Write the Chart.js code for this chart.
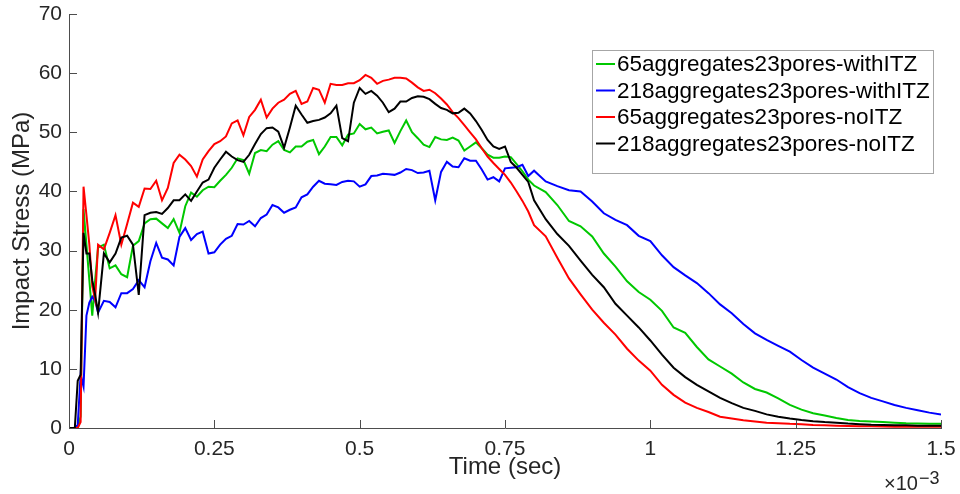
<!DOCTYPE html>
<html>
<head>
<meta charset="utf-8">
<script src="https://cdn.jsdelivr.net/npm/chart.js@4.4.1/dist/chart.umd.min.js"></script>
<style>
  html, body { margin: 0; padding: 0; background: #fff; }
  #wrap { width: 960px; height: 494px; position: relative; }
</style>
</head>
<body>
<div id="wrap"><canvas id="c"></canvas></div>
<script>
// time axis in units of 1e-3 s (finer steps at the impact spike)
const time = [
  0, 0.01, 0.015, 0.02, 0.025, 0.03, 0.035, 0.04, 0.045, 0.05,
  0.06, 0.07, 0.08, 0.09, 0.10, 0.11, 0.12, 0.13, 0.14, 0.15,
  0.16, 0.17, 0.18, 0.19, 0.20, 0.21, 0.22, 0.23, 0.24, 0.25,
  0.26, 0.27, 0.28, 0.29, 0.30, 0.31, 0.32, 0.33, 0.34, 0.35,
  0.36, 0.37, 0.38, 0.39, 0.40, 0.41, 0.42, 0.43, 0.44, 0.45,
  0.46, 0.47, 0.48, 0.49, 0.50, 0.51, 0.52, 0.53, 0.54, 0.55,
  0.56, 0.57, 0.58, 0.59, 0.60, 0.61, 0.62, 0.63, 0.64, 0.65,
  0.66, 0.67, 0.68, 0.69, 0.70, 0.71, 0.72, 0.73, 0.74, 0.75,
  0.76, 0.77, 0.78, 0.79, 0.80,
  0.82, 0.84, 0.86, 0.88, 0.90, 0.92, 0.94, 0.96, 0.98, 1.00,
  1.02, 1.04, 1.06, 1.08, 1.10, 1.12, 1.14, 1.16, 1.18, 1.20,
  1.22, 1.24, 1.26, 1.28, 1.30, 1.32, 1.34, 1.36, 1.38, 1.40,
  1.42, 1.44, 1.46, 1.48, 1.50
];

// impact stress (MPa)
const s65With = [
  0, 0, 0, 2, 37, 31, 25, 19, 25, 30.5,
  31, 27, 27.5, 26, 25.5, 30.8, 31.6, 34.6, 35.3, 35.4,
  34.6, 33.8, 35.3, 33, 37.5, 39.8, 39.1, 40.2, 40.8, 40.7,
  41.8, 42.8, 44, 45.6, 45.3, 43, 46.5, 47, 46.8, 47.9,
  48.5, 47, 46.6, 47.6, 47.6, 48.4, 48.7, 46.3, 47.6, 49.2,
  49.2, 47.8, 49.6, 49.8, 51.4, 50.5, 50.8, 49.8, 50.1, 50.3,
  48.2, 50.2, 52, 50, 49, 47.9, 47.5, 49.2, 48.8, 48.7,
  49.1, 48.6, 46.9, 47.6, 48.3, 47.3, 46.2, 45.7, 45.7, 45.9,
  45.8, 44.6, 43.4, 42, 41,
  39.9, 37.7, 35, 34.1, 32.4, 29.5, 27.3, 24.8, 23, 21.7,
  19.8, 17, 16.1, 13.7, 11.6, 10.4, 9.2, 7.7, 6.6, 6,
  5, 3.9, 3.1, 2.5, 2.1, 1.7, 1.35, 1.2, 1.1, 1.0,
  0.9, 0.8, 0.75, 0.7, 0.7
];
const s218With = [
  0, 0, 0.5, 9, 7, 19, 21.2, 22.2, 21.5, 19.5,
  21.5, 21.3, 20.4, 22.8, 22.8, 23.5, 25, 23.8, 28.2, 31.3,
  28.8, 28.5, 27.5, 32.3, 33.8, 31.8, 32.8, 33.2, 29.5, 29.7,
  31, 32, 32.5, 34.5, 34.4, 35, 34.1, 35.5, 36.1, 37.7,
  37.3, 36.4, 36.9, 37.3, 39, 39.5, 40.8, 41.8, 41.3, 41.2,
  41.1, 41.6, 41.8, 41.7, 40.8, 41.2, 42.6, 42.7, 43, 42.9,
  42.8, 43.2, 43.8, 43.6, 43.1, 43.2, 43.5, 38.5, 43.3, 45,
  44.2, 44.1, 45.6, 45.2, 45.2, 43.7, 42, 42.4, 41.7, 43.9,
  44, 44.1, 44.5, 42.6, 43.5,
  41.7, 40.9, 40.2, 40, 38.3, 36.3, 35.2, 34.3, 32.5, 31.6,
  29.2, 27.2, 25.8, 24.5, 22.8, 20.9, 19.4, 17.6, 16, 14.9,
  13.9, 12.9, 11.5, 10.2, 9.2, 8.2, 6.9, 5.9, 5.1, 4.5,
  3.9, 3.4, 3, 2.6, 2.3
];
const s65No = [
  0, 0, 0, 1, 40.8, 36, 31, 24, 21.7, 31,
  30.2, 33, 36, 31, 34.5, 38.1, 37.4, 40.5, 40.4, 41.8,
  38.5, 40.6, 44.8, 46.2, 45.4, 44.3, 42.5, 45.4, 46.8, 48,
  48.5, 49.3, 51.5, 52, 49.5, 52.6, 53.8, 55.5, 52.5, 54,
  55, 55.5, 56.5, 57, 54.8, 55.2, 57.5, 57.2, 55, 58.2,
  58, 58, 58.3, 58.3, 58.8, 59.7, 59.2, 58.2, 58.7, 58.9,
  59.2, 59.2, 59.1, 58.4, 57.6, 57, 57.2, 56.6, 55.7, 54.7,
  53.4, 52.4, 51.2, 50, 48.8, 47.3, 45.9, 44.8, 43.8, 42.8,
  41.5, 40, 38.4, 36.6, 34.3,
  32.4, 28.8, 25.3, 22.6, 20, 17.8, 15.8, 13.4, 11.4, 9.7,
  7.3, 5.6, 4.3, 3.4, 2.7, 1.9, 1.6, 1.3, 1.1, 0.9,
  0.8, 0.7, 0.65, 0.5, 0.45, 0.4, 0.35, 0.3, 0.3, 0.25,
  0.2, 0.2, 0.2, 0.2, 0.2
];
const s218No = [
  0, 0, 8, 9, 33, 29.5, 29.5, 25, 22.5, 19.5,
  29.5, 28, 29.5, 32.2, 32.5, 31, 22.5, 36, 36.4, 36.5,
  36.2, 37.2, 38.5, 38.5, 39.5, 38.4, 40, 41.5, 42, 44,
  45.4, 46.7, 45.9, 45.3, 45, 46.2, 48, 49.7, 50.7, 50.8,
  50.1, 47.4, 50.8, 54.5, 53, 51.6, 51.9, 52.1, 52.5, 53.2,
  54.5, 49, 48.5, 55, 57.5, 56.5, 57, 56.2, 55, 53.4,
  54, 55.2, 55.2, 55.8, 56.1, 56, 55.6, 54.8, 54.1, 53.8,
  53.2, 53.3, 54, 53.2, 51.9, 50.4, 48.7, 47.6, 47.2, 47.6,
  45, 44, 42.8, 41.6, 38.5,
  35.3, 32.8, 30.8, 28.3, 25.9, 23.8, 21, 19, 17, 14.8,
  12.4, 10.2, 8.6, 7.3, 6.2, 5.1, 4.2, 3.4, 2.9, 2.3,
  1.9, 1.6, 1.35, 1.15, 1.0, 0.9, 0.75, 0.65, 0.55, 0.5,
  0.45, 0.45, 0.4, 0.4, 0.4
];

const names  = ['65aggregates23pores-withITZ', '218aggregates23pores-withITZ',
                '65aggregates23pores-noITZ', '218aggregates23pores-noITZ'];
const colors = ['#00c800', '#0000ff', '#ff0000', '#000000'];
const values = [s65With, s218With, s65No, s218No];

const FONT = '"Liberation Sans", Arial, sans-serif';
const TXT  = '#262626';
const AXIS = '#4d4d4d';

// MATLAB style tick marks pointing into the plot
const innerTicks = {
  id: 'innerTicks',
  afterDraw(chart) {
    const {ctx, chartArea: a, scales: {x, y}} = chart;
    ctx.save();
    ctx.strokeStyle = AXIS;
    ctx.lineWidth = 1;
    ctx.beginPath();
    x.ticks.forEach(t => {
      const px = Math.round(x.getPixelForValue(t.value)) + 0.5;
      ctx.moveTo(px, a.bottom); ctx.lineTo(px, a.bottom - 8);
    });
    y.ticks.forEach(t => {
      const py = Math.round(y.getPixelForValue(t.value)) + 0.5;
      ctx.moveTo(a.left, py); ctx.lineTo(a.left + 8, py);
    });
    ctx.stroke();
    ctx.restore();
  }
};

// legend box inside the axes, upper right
const boxLegend = {
  id: 'boxLegend',
  afterDraw(chart) {
    const ctx = chart.ctx;
    const x0 = 592, y0 = 50, w = 341, h = 123;
    ctx.save();
    ctx.fillStyle = '#fff';
    ctx.fillRect(x0, y0, w, h);
    ctx.strokeStyle = '#a6a6a6';
    ctx.lineWidth = 1;
    ctx.strokeRect(x0 + 0.5, y0 + 0.5, w, h);
    ctx.font = `22.5px ${FONT}`;
    ctx.textBaseline = 'alphabetic';
    chart.data.datasets.forEach((ds, i) => {
      const ry = 64 + i * 26.5;
      ctx.strokeStyle = ds.borderColor;
      ctx.lineWidth = 2;
      ctx.beginPath(); ctx.moveTo(596, ry); ctx.lineTo(615, ry); ctx.stroke();
      ctx.fillStyle = '#000';
      ctx.fillText(ds.label, 617, ry + 7);
    });
    ctx.restore();
  }
};

// x10^-3 multiplier under the right end of the x axis
const expLabel = {
  id: 'expLabel',
  afterDraw(chart) {
    const ctx = chart.ctx;
    ctx.save();
    ctx.fillStyle = TXT;
    ctx.textBaseline = 'alphabetic';
    ctx.font = `20px ${FONT}`;
    ctx.fillText('\u00d710', 884, 490);
    const w = ctx.measureText('\u00d710').width;
    ctx.font = `18px ${FONT}`;
    ctx.fillText('\u22123', 884 + w + 1, 484);
    ctx.restore();
  }
};

new Chart(document.getElementById('c'), {
  type: 'line',
  data: {
    datasets: names.map((n, i) => ({
      label: n,
      data: time.map((t, k) => ({x: t, y: values[i][k]})),
      borderColor: colors[i],
      borderWidth: 2,
      pointRadius: 0,
      tension: 0,
      fill: false,
      order: names.length - 1 - i,
    })),
  },
  options: {
    responsive: true, maintainAspectRatio: false, animation: false,
    layout: { padding: { left: 0, right: 19, top: 14, bottom: 0 } },
    plugins: { legend: { display: false }, tooltip: { enabled: false } },
    scales: {
      x: {
        type: 'linear', min: 0, max: 1.5,
        grid: { display: false, drawTicks: false },
        border: { display: true, color: AXIS, width: 1 },
        ticks: { stepSize: 0.25, padding: 9, color: TXT, maxRotation: 0, autoSkip: false,
                 font: { family: FONT, size: 21 }, callback: v => String(+v.toFixed(2)) },
        title: { display: true, text: 'Time (sec)', color: TXT,
                 font: { family: FONT, size: 24 }, padding: { top: 0, bottom: 12 } },
        afterFit: s => { s.height = 66; s.paddingLeft = 0; s.paddingRight = 0; },
      },
      y: {
        min: 0, max: 70,
        grid: { display: false, drawTicks: false },
        border: { display: true, color: AXIS, width: 1 },
        ticks: { stepSize: 10, padding: 7, color: TXT, font: { family: FONT, size: 21 } },
        title: { display: true, text: 'Impact Stress (MPa)', color: TXT,
                 font: { family: FONT, size: 24 }, padding: { top: 8, bottom: 0 } },
        afterFit: s => { s.width = 69; s.paddingTop = 0; s.paddingBottom = 0; },
      },
    },
  },
  plugins: [innerTicks, boxLegend, expLabel],
});
</script>
</body>
</html>
